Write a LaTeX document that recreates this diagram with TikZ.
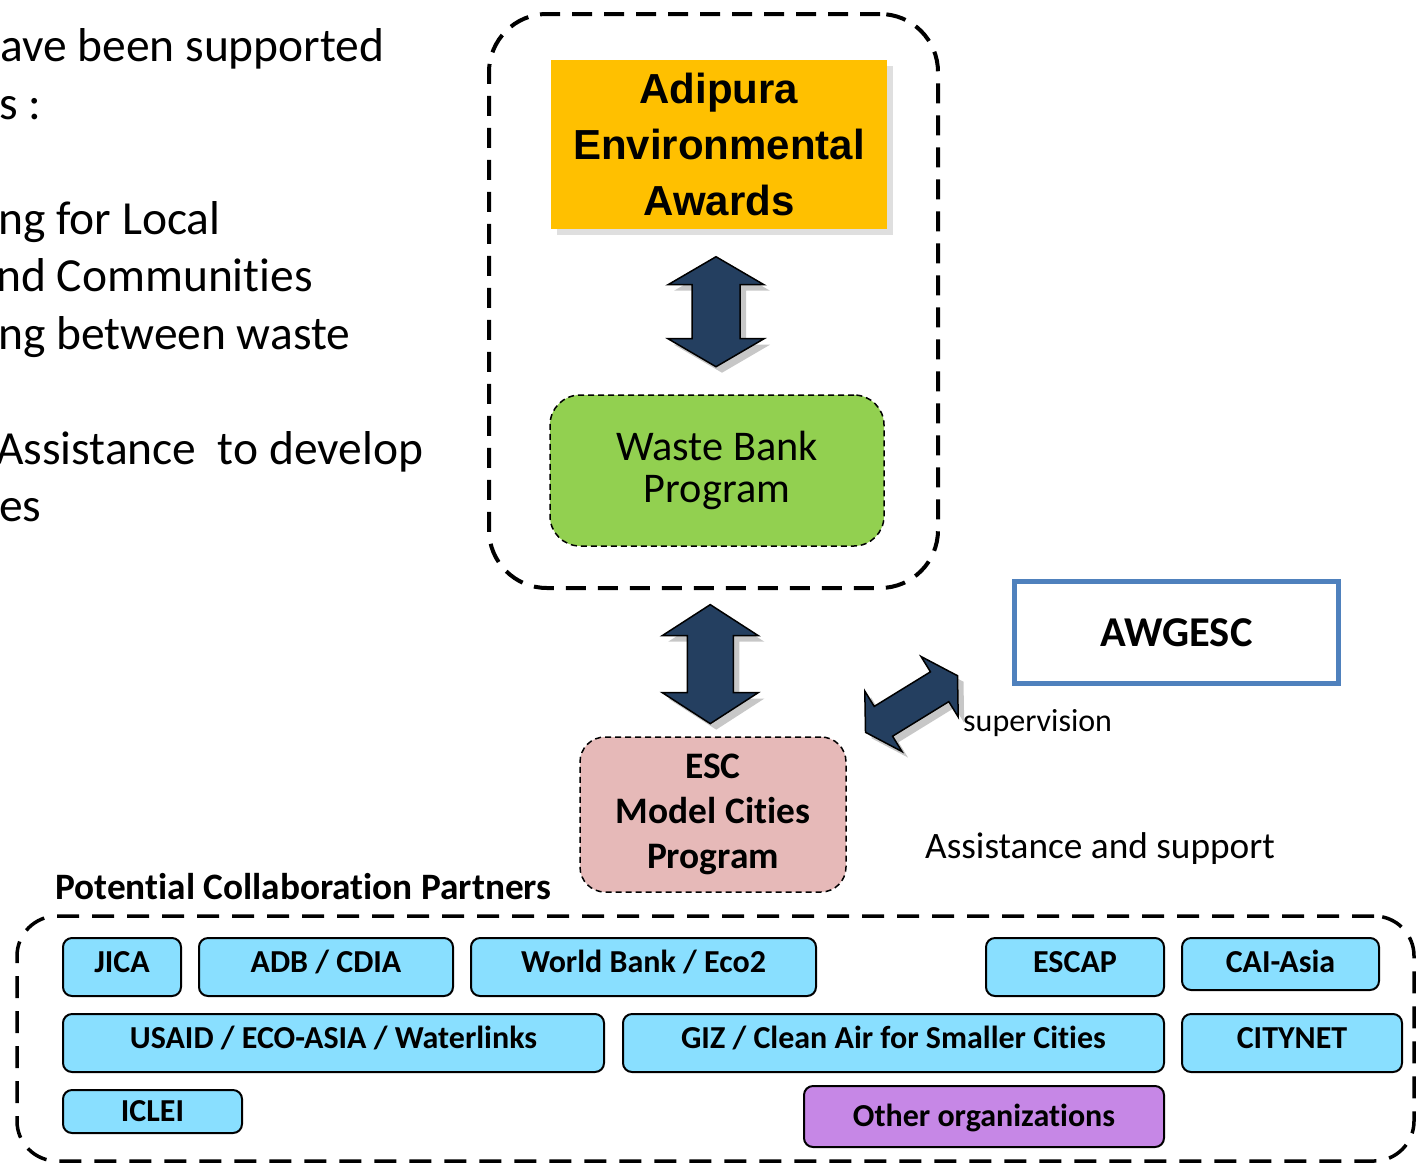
\documentclass[tikz,border=0pt]{standalone}
\usepackage{fontspec}
\setmainfont{Carlito}[Ligatures={CommonOff,ContextualOff},Contextuals=AlternateOff]
\newfontfamily\arialfont{Liberation Sans}
\usetikzlibrary{shadows,calc}
\definecolor{adiyel}{HTML}{FFC000}
\definecolor{wastegreen}{HTML}{92D050}
\definecolor{escpink}{HTML}{E6B9B8}
\definecolor{arrblue}{HTML}{243F60}
\definecolor{awgblue}{HTML}{4F81BD}
\definecolor{partcyan}{HTML}{89DFFF}
\definecolor{partpurple}{HTML}{C687E6}
% #1 centre, #2 rotation, #3 total length, #4 head length, #5 head width, #6 shaft width
\newcommand\myblockarrow[6]{%
  \fill[black, opacity=.22, shift={#1}, xshift=6pt, yshift=-6pt, rotate=#2]
    (-#3/2,0) -- (-#3/2+#4,-#5/2) -- (-#3/2+#4,-#6/2) -- (#3/2-#4,-#6/2) -- (#3/2-#4,-#5/2)
    -- (#3/2,0) -- (#3/2-#4,#5/2) -- (#3/2-#4,#6/2) -- (-#3/2+#4,#6/2) -- (-#3/2+#4,#5/2) -- cycle;
  \draw[arrowstyle, shift={#1}, rotate=#2]
    (-#3/2,0) -- (-#3/2+#4,-#5/2) -- (-#3/2+#4,-#6/2) -- (#3/2-#4,-#6/2) -- (#3/2-#4,-#5/2)
    -- (#3/2,0) -- (#3/2-#4,#5/2) -- (#3/2-#4,#6/2) -- (-#3/2+#4,#6/2) -- (-#3/2+#4,#5/2) -- cycle;
}
\begin{document}
\begin{tikzpicture}[x=1pt,y=-1pt,
  lefttext/.style={anchor=base west, inner sep=0, font=\fontsize{47.5}{57.5}\selectfont},
  bigdash/.style={draw, line width=4pt, dash pattern=on 20pt off 12pt, inner sep=0},
  smalldash/.style={draw, line width=1.5pt, dash pattern=on 6pt off 4pt, inner sep=0, align=center},
  partner/.style={draw, line width=2pt, rounded corners=9pt, fill=partcyan, inner sep=0,
    font=\bfseries\fontsize{32}{38}\selectfont, minimum height=58, text height=20pt, text depth=10pt},
  arrowstyle/.style={fill=arrblue, draw=black, line width=1.5pt, line join=miter},
]
\useasboundingbox (0,0) rectangle (1420,1165);
\clip (0,0) rectangle (1420,1165);

% left text (cut at the page edge, as in the original)
\node[lefttext] (l1) at (0,61.5) {ave been supported};
\node[lefttext] (l2) at (-1,119) {s :};
\node[lefttext] (l3) at (-2,234) {ng for Local};
\node[lefttext] (l4) at (-4,291.5) {nd Communities};
\node[lefttext] (l5) at (-2,349) {ng between waste};
\node[lefttext] (l6) at (-4,464) {Assistance\ \ to develop};
\node[lefttext] (l7) at (-1,521.5) {es};

% top group
\node[bigdash, minimum width=449, minimum height=574, rounded corners=58pt] (topbox) at (713.5,301) {};
\node[fill=adiyel, inner sep=0, minimum width=336, minimum height=169, align=center,
  drop shadow={shadow xshift=6pt, shadow yshift=-6pt, opacity=.25},
  font=\arialfont\bfseries\fontsize{42}{56}\selectfont] (adi) at (719,144.5) {Adipura\\Environmental\\Awards};
\node[smalldash, fill=wastegreen, minimum width=334, minimum height=151, rounded corners=30pt,
  font=\fontsize{42.3}{42}\selectfont] (waste) at (717,470.5) {Waste Bank\\Program};

\myblockarrow{($(adi.south)!0.5!(waste.north)+(-2,0)$)}{90}{110}{28}{96}{48}

% ESC
\node[smalldash, fill=escpink, minimum width=266, minimum height=155, rounded corners=25pt,
  font=\bfseries\fontsize{37.4}{45}\selectfont] (esc) at (713,814.5) {ESC\\Model Cities\\Program};
\myblockarrow{($(topbox.south)!0.5!(esc.north)+(-3,1)$)}{90}{119}{31}{96}{46}

% AWGESC
\node[draw=awgblue, line width=5pt, inner sep=0, minimum width=324, minimum height=102,
  font=\bfseries\fontsize{42.5}{50}\selectfont] (awg) at (1176.5,632.5) {AWGESC};
\coordinate (diag) at (911.5,704);
\myblockarrow{(diag)}{31.6}{108}{21}{71}{35}
\node[anchor=base west, inner sep=0, font=\fontsize{32}{38}\selectfont] (sup) at (963,731) {supervision};
\node[anchor=base west, inner sep=0, font=\fontsize{37.3}{44}\selectfont] (assist) at (925,858) {Assistance and support};

% partners
\node[anchor=base west, inner sep=0, font=\bfseries\fontsize{37.3}{44}\selectfont] (pcp) at (55,899) {Potential Collaboration Partners};
\node[draw, line width=3.5pt, dash pattern=on 22pt off 13pt, rounded corners=40pt, inner sep=0,
  minimum width=1397, minimum height=245] (botbox) at (715.5,1038.5) {};

\node[partner, minimum width=118] (jica) at (122,967) {JICA};
\node[partner, minimum width=254] (adb) at (326,967) {ADB / CDIA};
\node[partner, minimum width=345] (wb) at (643.5,967) {World Bank / Eco2};
\node[partner, minimum width=178] (escap) at (1075,967) {ESCAP};
\node[partner, minimum width=197, minimum height=52, text depth=4pt] (cai) at (1280.5,964) {CAI-Asia};
\node[partner, minimum width=541] (usaid) at (333.5,1043) {USAID / ECO-ASIA / Waterlinks};
\node[partner, minimum width=541] (giz) at (893.5,1043) {GIZ / Clean Air for Smaller Cities};
\node[partner, minimum width=220] (citynet) at (1292,1043) {CITYNET};
\node[partner, minimum width=179, minimum height=43, text depth=0pt] (iclei) at (152.5,1111.5) {ICLEI};
\node[partner, fill=partpurple, minimum width=360, minimum height=61, text depth=0pt] (other) at (984,1116.5) {Other organizations};
\end{tikzpicture}
\end{document}
